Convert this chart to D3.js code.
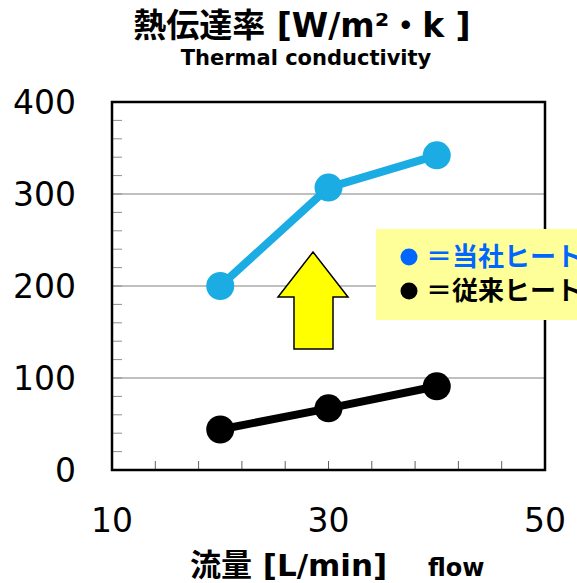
<!DOCTYPE html>
<html>
<head>
<meta charset="utf-8">
<script src="https://cdn.jsdelivr.net/npm/d3@7"></script>
<style>
  body { margin: 0; background: #fff; }
  text { font-family: 'DejaVu Sans', 'Noto Sans CJK JP', sans-serif; }
</style>
</head>
<body>
<svg width="577" height="583"></svg>
<script>
// data
var flow = [20, 30, 40];
var ourHeat = [200, 307, 342];
var oldHeat = [44, 67, 91];
var yTicks = [0, 100, 200, 300, 400];
var xTicks = [10, 30, 50];
var seriesNames = ['＝当社ヒート', '＝従来ヒート'];
var seriesColors = ['#1aace3', '#000000'];
var legendDot = ['#0066ff', '#000000'];

var svg = d3.select('svg');
var margin = {top: 102, right: 32, bottom: 113, left: 112};
var width = svg.attr('width') - margin.left - margin.right;
var height = svg.attr('height') - margin.top - margin.bottom;
var g = svg
  .append('g')
  .attr('transform', 'translate(' + margin.left + ',' + margin.top + ')');

var x = d3.scaleLinear().domain([10, 50]).range([0, width]);
var y = d3.scaleLinear().domain([0, 400]).range([height, 0]);

// grid lines
g.append('g')
  .selectAll('line')
  .data([100, 200, 300])
  .enter()
  .append('line')
  .attr('x1', 0)
  .attr('x2', width)
  .attr('y1', d => y(d))
  .attr('y2', d => y(d))
  .attr('stroke', '#808080')
  .attr('stroke-width', 1);

// minor ticks, inside the box
g.append('g')
  .selectAll('line')
  .data(d3.range(20, 400, 20))
  .enter()
  .append('line')
  .attr('x1', 0)
  .attr('x2', 10)
  .attr('y1', d => y(d))
  .attr('y2', d => y(d))
  .attr('stroke', '#909090');

g.append('g')
  .selectAll('line')
  .data(d3.range(14, 50, 4))
  .enter()
  .append('line')
  .attr('x1', d => x(d))
  .attr('x2', d => x(d))
  .attr('y1', height)
  .attr('y2', height - 9)
  .attr('stroke', '#606060');

// tick labels
g.append('g')
  .selectAll('text')
  .data(yTicks)
  .enter()
  .append('text')
  .attr('x', -36)
  .attr('y', d => y(d))
  .attr('dy', '0.36em')
  .attr('text-anchor', 'end')
  .attr('font-size', 33)
  .text(d => d);

g.append('g')
  .selectAll('text')
  .data(xTicks)
  .enter()
  .append('text')
  .attr('x', d => x(d))
  .attr('y', height + 62)
  .attr('text-anchor', 'middle')
  .attr('font-size', 33)
  .text(d => d);

// box
g.append('rect')
  .attr('width', width)
  .attr('height', height)
  .attr('fill', 'none')
  .attr('stroke', '#000')
  .attr('stroke-width', 2.5);

// arrow
var arrow = [[313, 252], [348, 297], [333, 297], [333, 349], [294, 349], [294, 297], [278, 297]];
svg.append('polygon')
  .attr('points', arrow.join(' '))
  .attr('fill', '#ffff00')
  .attr('stroke', '#000')
  .attr('stroke-width', 1.5);

// series
var line = d3.line()
  .x((d, i) => x(flow[i]))
  .y(d => y(d));

[ourHeat, oldHeat].forEach(function(vals, k) {
  var s = g.append('g');
  s.append('path')
    .datum(vals)
    .attr('d', line)
    .attr('fill', 'none')
    .attr('stroke', seriesColors[k])
    .attr('stroke-width', 8);
  s.selectAll('circle')
    .data(vals)
    .enter()
    .append('circle')
    .attr('cx', (d, i) => x(flow[i]))
    .attr('cy', d => y(d))
    .attr('r', 14)
    .attr('fill', seriesColors[k]);
});

// legend (cut off by the right edge, as in the original)
var lg = svg.append('g').attr('transform', 'translate(376,229)');
lg.append('rect')
  .attr('width', 220)
  .attr('height', 91)
  .attr('fill', '#ffff99');
var items = lg.selectAll('g')
  .data(seriesNames)
  .enter()
  .append('g')
  .attr('transform', (d, i) => 'translate(0,' + (28 + i * 34) + ')');
items.append('circle')
  .attr('cx', 33)
  .attr('cy', 0)
  .attr('r', 8.5)
  .attr('fill', (d, i) => legendDot[i]);
items.append('text')
  .attr('x', 50)
  .attr('dy', '0.36em')
  .attr('font-size', 26)
  .attr('font-weight', 'bold')
  .attr('fill', (d, i) => legendDot[i])
  .style('font-family', "'Noto Sans CJK JP', sans-serif")
  .text(d => d);

// titles
svg.append('text')
  .attr('x', 302)
  .attr('y', 37)
  .attr('text-anchor', 'middle')
  .attr('font-size', 33)
  .attr('font-weight', 'bold')
  .text('熱伝達率 [W/m²・k ]');
svg.append('text')
  .attr('x', 306)
  .attr('y', 65)
  .attr('text-anchor', 'middle')
  .attr('font-size', 21)
  .attr('font-weight', 'bold')
  .text('Thermal conductivity');
svg.append('text')
  .attr('x', 190)
  .attr('y', 576)
  .attr('font-size', 31)
  .attr('font-weight', 'bold')
  .text('流量 [L/min]');
svg.append('text')
  .attr('x', 428)
  .attr('y', 576)
  .attr('font-size', 24)
  .attr('font-weight', 'bold')
  .text('flow');
</script>
</body>
</html>
